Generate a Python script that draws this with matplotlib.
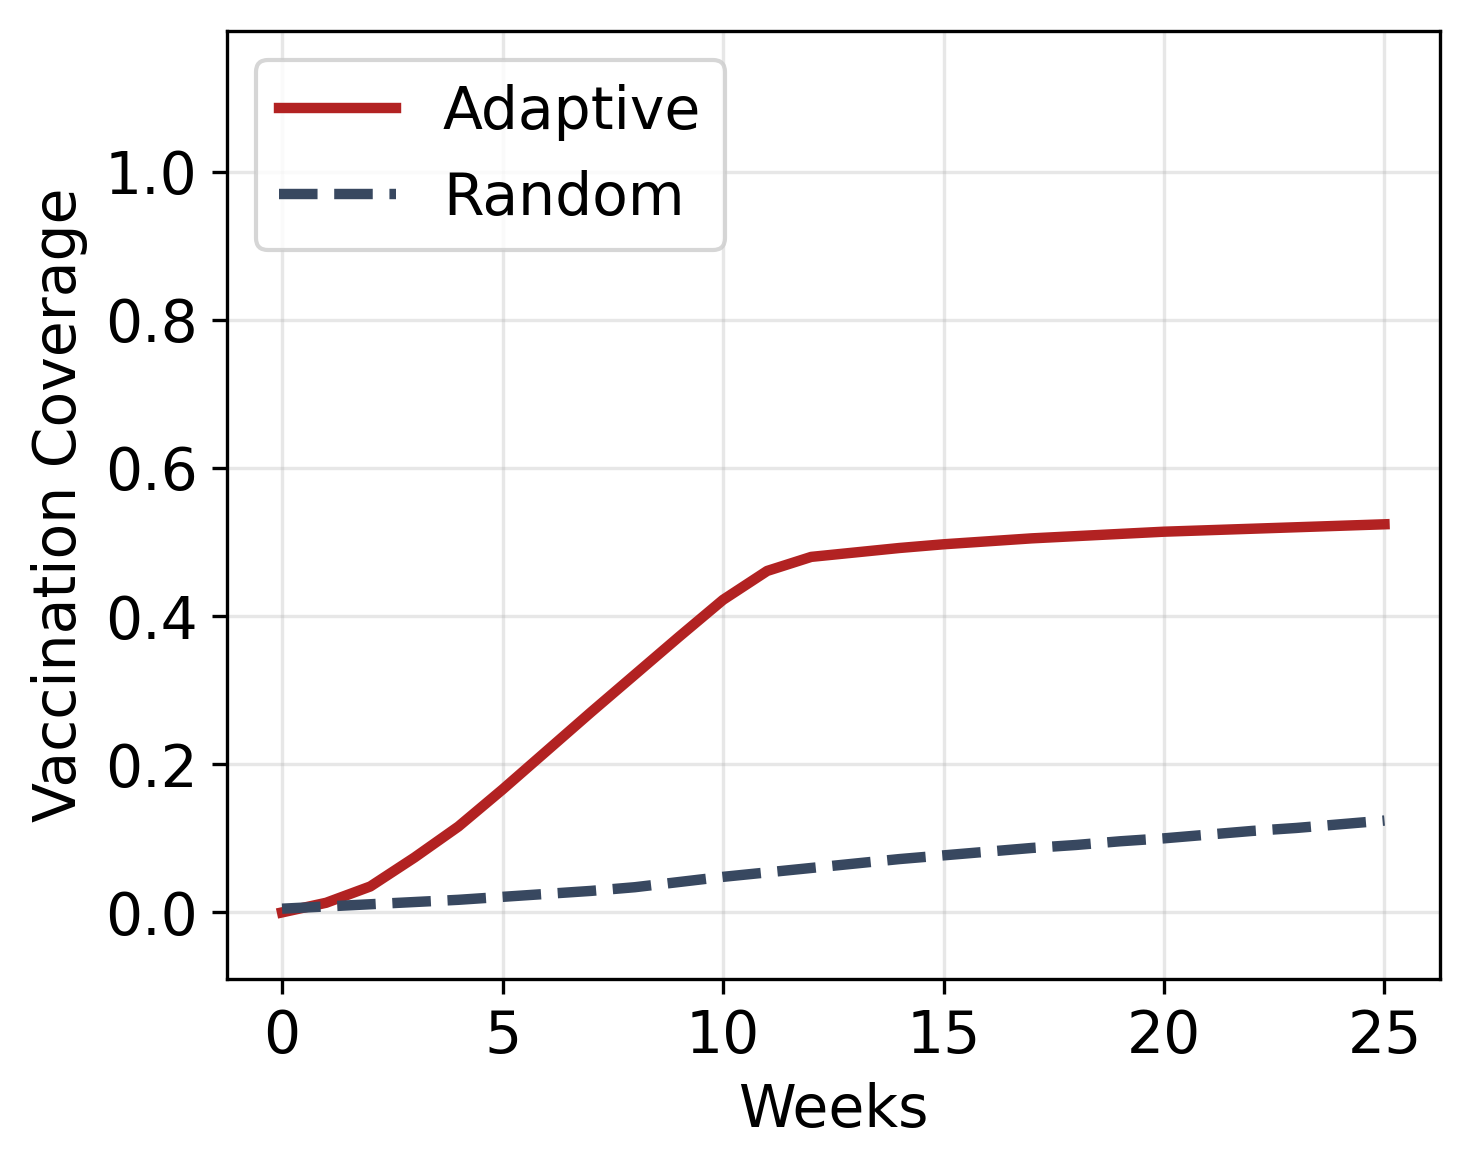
import numpy as np
import matplotlib
matplotlib.use('Agg')
import matplotlib.pyplot as plt

# weekly coverage
weeks = np.arange(0, 26)
adaptive = [0.000, 0.013, 0.035, 0.074, 0.116, 0.166, 0.218, 0.270, 0.321, 0.372,
            0.422, 0.461, 0.480, 0.486, 0.492, 0.497, 0.501, 0.505, 0.508, 0.511,
            0.514, 0.516, 0.518, 0.520, 0.522, 0.524]
random_cov = [0.005, 0.008, 0.011, 0.014, 0.017, 0.021, 0.025, 0.029, 0.034, 0.041,
              0.048, 0.054, 0.060, 0.066, 0.072, 0.077, 0.082, 0.087, 0.091, 0.096,
              0.100, 0.105, 0.110, 0.114, 0.119, 0.124]

fig, ax = plt.subplots(figsize=(1469/300, 1170/300), dpi=300)
fig.subplots_adjust(left=0.1545, right=0.980, top=0.9735, bottom=0.1632)

ax.plot(weeks, adaptive, color='#b22222', lw=2.5, label='Adaptive')
ax.plot(weeks, random_cov, color='#384860', lw=2.5, ls='--', label='Random')

ax.set_ylim(-0.09, 1.19)
ax.set_xlabel('Weeks', fontsize=14)
ax.set_ylabel('Vaccination Coverage', fontsize=14)
ax.tick_params(labelsize=14)
ax.grid(True, alpha=0.3)
ax.legend(loc='upper left', fontsize=14)

plt.savefig('out.png', dpi=300)
